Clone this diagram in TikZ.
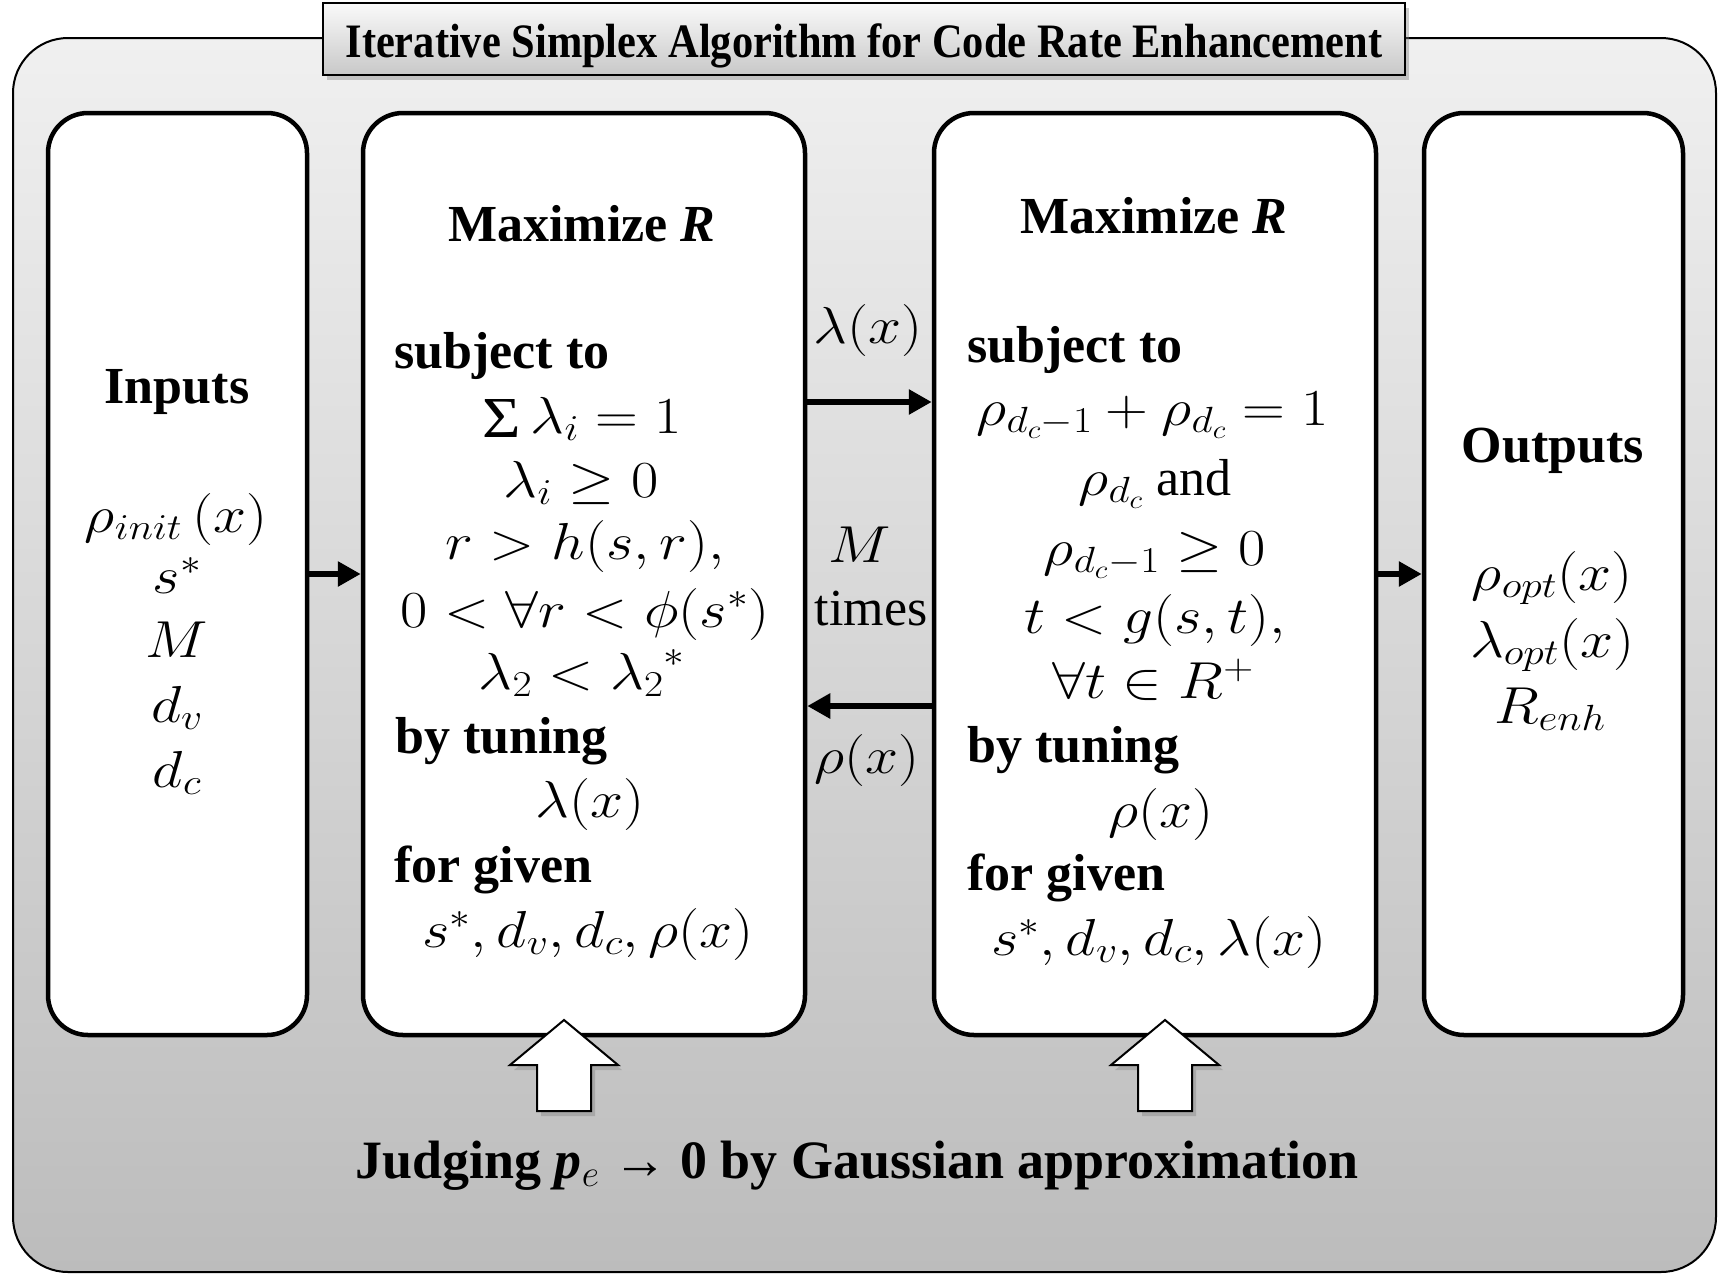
\RequirePackage{fix-cm}
\documentclass[tikz,border=0pt]{standalone}
\usepackage{fontspec}
\setmainfont{Liberation Serif}
\usepackage{graphicx}
\usetikzlibrary{shadows,arrows.meta,calc}
\newcommand{\myfs}{\fontsize{52}{62}\selectfont}
\newcommand{\mathfs}{\fontsize{52}{62}\selectfont}
\newcommand{\mw}[1]{\scalebox{1.14}[1]{#1}}
\newcommand{\bigsig}{\raisebox{-4pt}{\fontsize{58}{58}\selectfont Σ}}
\definecolor{frametop}{RGB}{240,240,240}
\definecolor{framebot}{RGB}{188,188,188}
\definecolor{titletop}{RGB}{250,250,250}
\definecolor{titlebot}{RGB}{200,200,200}
\begin{document}
\begin{tikzpicture}[x=1pt,y=-1pt,
  box/.style={draw, line width=4.5pt, rounded corners=40pt, fill=white, inner sep=0pt},
  txt/.style={anchor=base, inner sep=0pt, font=\myfs},
  mth/.style={anchor=base, inner sep=0pt, font=\mathfs},
  hdr/.style={anchor=base, inner sep=0pt, font=\myfs\bfseries},
  lft/.style={anchor=base west, inner sep=0pt, font=\myfs\bfseries},
  conn/.style={line width=6pt, -{Triangle[length=23pt,width=24pt]}},
  blockarrow/.style={draw, line width=2pt, fill=white, line join=miter,
     drop shadow={shadow xshift=4pt, shadow yshift=-5pt, opacity=0.4}},
  titlebox/.style={draw, line width=2pt, top color=titletop, bottom color=titlebot, inner sep=0pt,
     drop shadow={shadow xshift=4pt, shadow yshift=-5pt, opacity=0.4}}
]
\useasboundingbox (0,0) rectangle (1719,1274);
% outer frame
\node (frame) [draw, line width=2pt, rounded corners=55pt, minimum width=1703pt, minimum height=1234pt,
  top color=frametop, bottom color=framebot, inner sep=0pt] at (864.5,655) {};
% title
\node (title) [titlebox, minimum width=1082pt, minimum height=72pt] at (864,39) {};
\node (titletext) [anchor=base, inner sep=0pt] at (864,57)
  {\resizebox{1037pt}{\height}{\fontsize{48}{52}\selectfont\bfseries Iterative Simplex Algorithm for Code Rate Enhancement}};
% boxes
\node (inbox)  [box, minimum width=259pt, minimum height=922pt] at (177.5,574) {};
\node (b2)     [box, minimum width=442pt, minimum height=922pt] at (584,574) {};
\node (b3)     [box, minimum width=442pt, minimum height=922pt] at (1155,574) {};
\node (outbox) [box, minimum width=259pt, minimum height=922pt] at (1553.5,574) {};
% inputs
\node (inT) [hdr] at (177,403) {Inputs};
\node (in1) [mth] at (176,532) {\mw{$\rho_{init}\,(x)$}};
\node (in2) [mth] at (177,593) {\mw{$s^*$}};
\node (in3) [mth] at (177,657) {\mw{$M$}};
\node (in4) [mth] at (177,722) {\mw{$d_v$}};
\node (in5) [mth] at (177,787) {\mw{$d_c$}};
% box 2
\node (b2T) [hdr] at (582,241) {Maximize \textit{R}};
\node (b2s) [lft] at (394,368) {subject to};
\node (b2c1) [mth] at (582,433) {\mw{\bigsig\,$\lambda_i = 1$}};
\node (b2c2) [mth] at (581,497) {\mw{$\lambda_i \geq 0$}};
\node (b2c3) [mth] at (585,559) {\mw{$r > h(s,r),$}};
\node (b2c4) [mth] at (585,627) {\mw{$0 < \forall r < \phi(s^*)$}};
\node (b2c5) [mth] at (582,689) {\mw{$\lambda_2 < {\lambda_2}^{*}$}};
\node (b2b) [lft] at (395,753) {by tuning};
\node (b2v) [mth] at (590,817) {\mw{$\lambda(x)$}};
\node (b2f) [lft] at (394,882) {for given};
\node (b2g) [mth] at (588,947) {\mw{$s^*, d_v, d_c, \rho(x)$}};
% box 3
\node (b3T) [hdr] at (1154,233) {Maximize \textit{R}};
\node (b3s) [lft] at (967,362) {subject to};
\node (b3c1) [mth] at (1153,425) {\mw{$\rho_{d_c-1} + \rho_{d_c} = 1$}};
\node (b3c2) [mth] at (1155,495) {\mw{$\rho_{d_c}$} {\myfs and}};
\node (b3c3) [mth] at (1155,565) {\mw{$\rho_{d_c-1} \geq 0$}};
\node (b3c4) [mth] at (1155,633) {\mw{$t < g(s,t),$}};
\node (b3c5) [mth] at (1153,698) {\mw{$\forall t \in R^{+}$}};
\node (b3b) [lft] at (967,762) {by tuning};
\node (b3v) [mth] at (1161,827) {\mw{$\rho(x)$}};
\node (b3f) [lft] at (967,890) {for given};
\node (b3g) [mth] at (1159,955) {\mw{$s^*, d_v, d_c, \lambda(x)$}};
% outputs
\node (outT) [hdr] at (1553,462) {Outputs};
\node (o1) [mth] at (1552,590) {\mw{$\rho_{opt}(x)$}};
\node (o2) [mth] at (1552,657) {\mw{$\lambda_{opt}(x)$}};
\node (o3) [mth] at (1550,723) {\mw{$R_{enh}$}};
% middle labels
\node (mlam) [mth] at (868,343) {\mw{$\lambda(x)$}};
\node (mM) [mth] at (860,562) {\mw{$M$}};
\node (mtimes) [txt] at (871,625) {times};
\node (mrho) [mth] at (867,773) {\mw{$\rho(x)$}};
% connectors
\coordinate (ylam) at (0,402);
\coordinate (yrho) at (0,706);
\draw[conn] (inbox.east) -- (b2.west);
\draw[conn] (b3.east) -- (outbox.west);
\draw[conn] (b2.east |- ylam) -- (b3.west |- ylam);
\draw[conn] (b3.west |- yrho) -- (b2.east |- yrho);
% block arrows
\path[blockarrow] (564,1020) -- (618,1065) -- (591,1065) -- (591,1111) -- (537,1111) -- (537,1065) -- (510,1065) -- cycle;
\path[blockarrow] (1165,1020) -- (1219,1065) -- (1192,1065) -- (1192,1111) -- (1138,1111) -- (1138,1065) -- (1111,1065) -- cycle;
% bottom text
\node (judge) [anchor=base, inner sep=0pt] at (857,1178)
  {\resizebox{1003pt}{\height}{\fontsize{54}{60}\selectfont\bfseries Judging \textit{p}$_{e}$ → 0 by Gaussian approximation}};
\end{tikzpicture}
\end{document}
